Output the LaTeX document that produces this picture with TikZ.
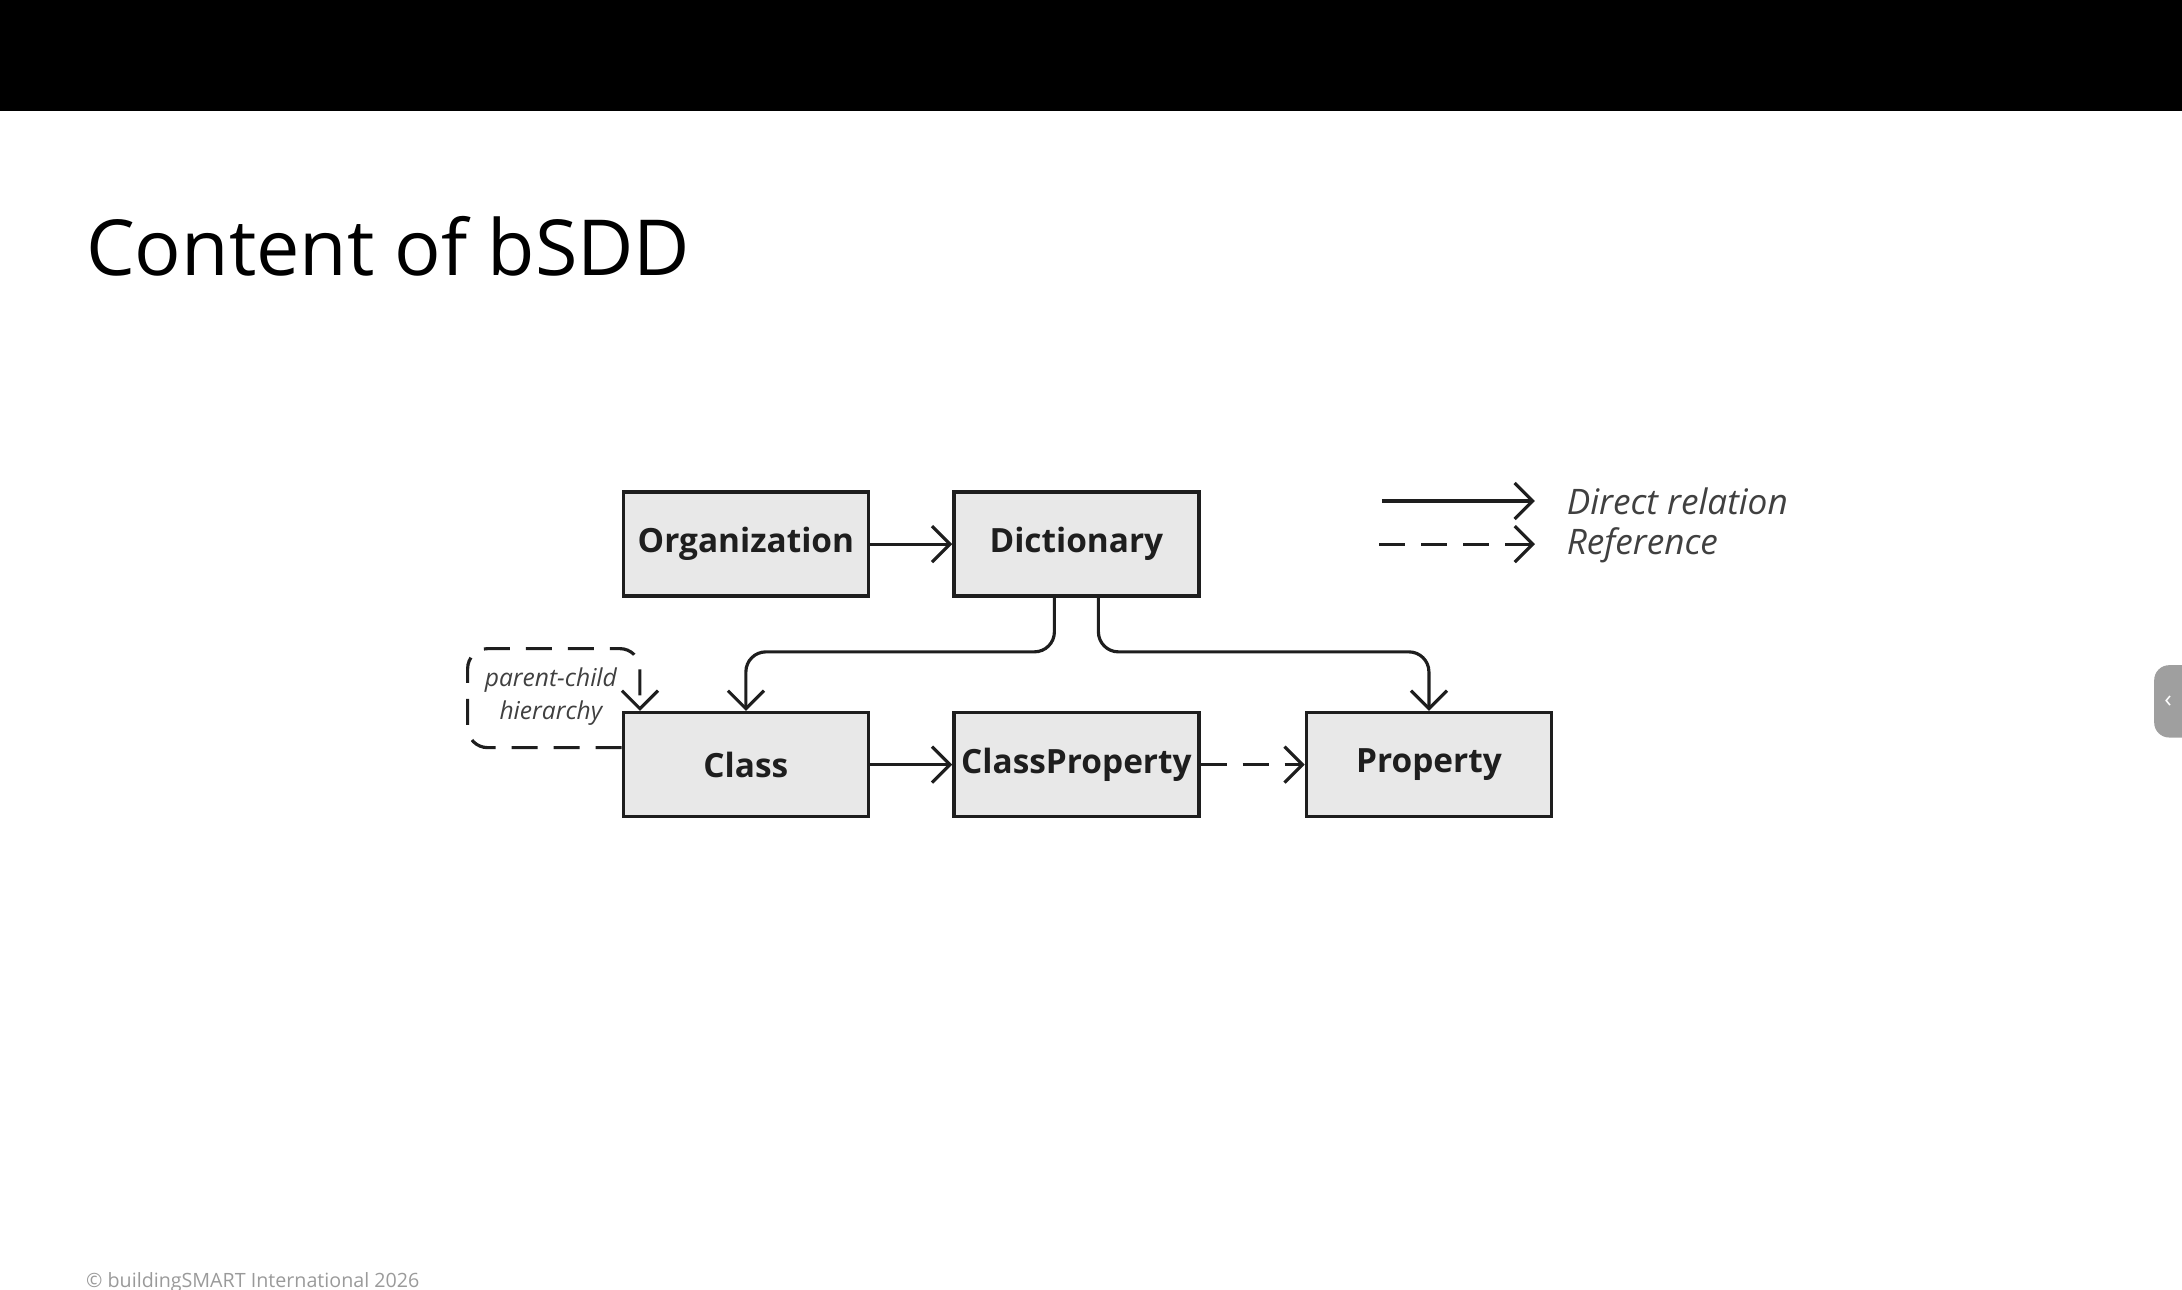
\documentclass[tikz,border=0pt]{standalone}
\usepackage{fontspec}
\setmainfont{Open Sans}
\usetikzlibrary{positioning, arrows.meta}

\definecolor{boxfill}{HTML}{E8E8E8}
\definecolor{ink}{HTML}{1E1E1E}
\definecolor{footgray}{HTML}{9A9A9A}

\begin{document}
\begin{tikzpicture}[x=0.13916mm, y=-0.13916mm, >={Straight Barb[length=1.8mm,width=3.6mm]},
    node distance={8.2mm},
    entity/.style = {draw=ink, fill=boxfill, line width=1pt, minimum width=24.5mm, minimum height=10.4mm, font=\fontsize{9.5}{11}\selectfont\bfseries, text=ink, inner sep=0pt},
    rel/.style = {->, draw=ink, line width=0.9pt},
    refl/.style = {rel, dash pattern=on 2.6mm off 1.6mm},
    legend/.style = {font=\fontsize{10}{12}\selectfont\itshape, text=ink!85, anchor=west}]

    \useasboundingbox (0,0) rectangle (1568,927);
    \fill[black] (0,0) rectangle (1568,80);

    \node[anchor=base west, font=\fontsize{22}{26}\selectfont, text=black] (title) at (53,198) {Content of bSDD};

    % entities
    \node[entity] (org) at (536,391) {Organization};
    \node[entity] (dict) [right=of org] {Dictionary};
    \node[entity] (class) [below=11.3mm of org] {Class};
    \node[entity] (cprop) [right=of class] {ClassProperty};
    \node[entity] (prop) [right=10.4mm of cprop] {Property};

    % relations
    \draw[rel] (org) -- (dict);
    \draw[rel] (class) -- (cprop);
    \draw[refl] (cprop) -- (prop);
    \draw[rel, rounded corners=2mm] ([xshift=-2.2mm]dict.south) -- ++(0,-5.4mm) -| (class.north);
    \draw[rel, rounded corners=2mm] ([xshift=2.2mm]dict.south) -- ++(0,-5.4mm) -| (prop.north);

    % parent-child loop
    \draw[refl, rounded corners=2mm] ([yshift=1.7mm]class.west) -- ++(-15.4mm,0) -- ++(0,9.9mm) -| ([xshift=-10.6mm]class.north);
    \node[align=center, font=\fontsize{7}{9.5}\selectfont\itshape, text=ink!85] (pc) at ([xshift=-19.5mm, yshift=6.8mm]class.center) {parent-child\\hierarchy};

    % legend
    \coordinate (l1a) at (993,360);
    \coordinate (l1b) at (1103,360);
    \coordinate (l2a) at (991,391);
    \coordinate (l2b) at (1103,391);
    \draw[rel] (l1a) -- (l1b);
    \draw[refl] (l2a) -- (l2b);
    \node[legend] (ldir) at (1117,360) {Direct relation};
    \node[legend] (lref) at (1117,392) {Reference};

    % footer and side tab
    \node[anchor=base west, font=\fontsize{5.6}{7}\selectfont, text=footgray] (foot) at (53,925) {© buildingSMART International 2026};
    \fill[gray!75, rounded corners=1.5mm] (1548,478) rectangle (1580,530);
    \node[text=white, font=\fontsize{7}{8}\selectfont] (tab) at (1558,504) {‹};
\end{tikzpicture}
\end{document}
